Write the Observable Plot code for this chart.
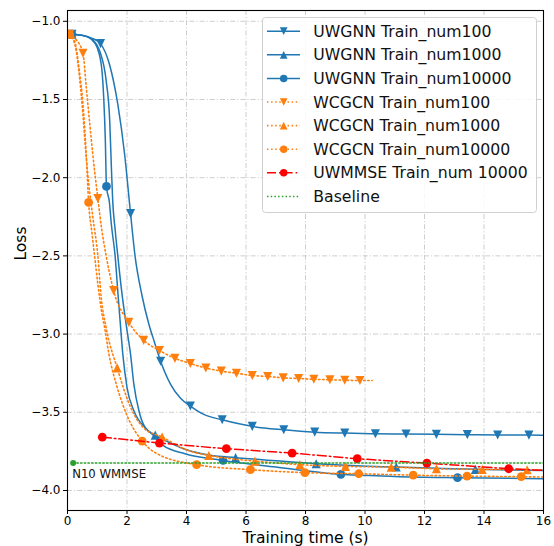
<!DOCTYPE html>
<html><head><meta charset="utf-8">
<script src="https://cdn.jsdelivr.net/npm/d3@7"></script>
<script src="https://cdn.jsdelivr.net/npm/@observablehq/plot@0.6"></script>
<style>
body{margin:0;background:#fff;}
#wrap{position:relative;width:554px;height:546px;font-family:"DejaVu Sans",sans-serif;}
#legend{position:absolute;left:262px;top:17px;}
</style></head><body><div id="wrap"></div>
<script>
const xTicks = [0, 2, 4, 6, 8, 10, 12, 14, 16];
const yTicks = [-1.0, -1.5, -2.0, -2.5, -3.0, -3.5, -4.0];
const xLabel = "Training time (s)";
const yLabel = "Loss";
const legendLabels = ["UWGNN Train_num100", "UWGNN Train_num1000", "UWGNN Train_num10000",
  "WCGCN Train_num100", "WCGCN Train_num1000", "WCGCN Train_num10000",
  "UWMMSE Train_num 10000", "Baseline"];
const annotation = ["N10 WMMSE"];

// [time (s), loss]
const uwgnn100 = [[0.15,-1.083],[0.6,-1.095],[0.9,-1.115],[1.11,-1.143],[1.41,-1.275],[1.69,-1.53],[1.92,-1.85],[2.12,-2.23],[2.27,-2.5],[2.5,-2.75],[2.74,-2.94],[2.92,-3.05],[3.13,-3.174],[3.46,-3.32],[3.8,-3.41],[4.13,-3.46],[4.6,-3.515],[5.2,-3.548],[6.21,-3.59],[7.27,-3.612],[8.31,-3.627],[9.32,-3.633],[10.35,-3.637],[11.38,-3.639],[12.40,-3.641],[13.44,-3.643],[14.46,-3.645],[15.51,-3.646],[16,-3.647]];
const uwgnn100Marks = [0.15,1.11,2.12,3.13,4.13,5.2,6.21,7.27,8.31,9.32,10.35,11.38,12.40,13.44,14.46,15.51];

const uwgnn1000 = [[0.15,-1.083],[0.5,-1.09],[0.8,-1.11],[1.1,-1.2],[1.3,-1.38],[1.42,-1.64],[1.48,-1.96],[1.52,-2.15],[1.6,-2.33],[1.69,-2.5],[1.83,-2.74],[1.98,-2.95],[2.12,-3.13],[2.23,-3.32],[2.4,-3.49],[2.62,-3.6],[2.95,-3.646],[3.5,-3.70],[4.0,-3.74],[4.8,-3.775],[5.65,-3.79],[7.0,-3.81],[8.36,-3.829],[9.7,-3.842],[11.05,-3.85],[12.4,-3.858],[13.71,-3.865],[16,-3.872]];
const uwgnn1000Marks = [0.15,2.95,5.65,8.36,11.05,13.71];

const uwgnn10000 = [[0.15,-1.083],[0.5,-1.09],[0.8,-1.115],[1.0,-1.17],[1.15,-1.3],[1.22,-1.5],[1.27,-1.75],[1.31,-2.056],[1.41,-2.16],[1.47,-2.29],[1.6,-2.5],[1.7,-2.75],[1.77,-2.92],[1.86,-3.13],[2.0,-3.34],[2.23,-3.49],[2.62,-3.6],[2.9,-3.65],[3.2,-3.71],[3.95,-3.765],[5.23,-3.808],[7.0,-3.85],[9.19,-3.897],[11.0,-3.91],[13.11,-3.918],[16,-3.925]];
const uwgnn10000Marks = [0.15,1.31,5.23,9.19,13.11];

const wcgcn100 = [[0.07,-1.083],[0.3,-1.12],[0.52,-1.204],[0.63,-1.42],[0.74,-1.64],[0.85,-1.85],[1.02,-2.133],[1.15,-2.33],[1.3,-2.5],[1.55,-2.722],[2.06,-2.925],[2.56,-3.04],[3.09,-3.105],[3.61,-3.155],[4.13,-3.188],[4.65,-3.217],[5.17,-3.237],[5.68,-3.25],[6.21,-3.265],[6.73,-3.271],[7.25,-3.28],[7.77,-3.284],[8.28,-3.289],[8.82,-3.292],[9.32,-3.295],[9.83,-3.297],[10.24,-3.297]];
const wcgcn100Marks = [0.07,0.52,1.02,1.55,2.06,2.56,3.09,3.61,4.13,4.65,5.17,5.68,6.21,6.73,7.25,7.77,8.28,8.82,9.32,9.83];

const wcgcn1000 = [[0.07,-1.083],[0.25,-1.15],[0.4,-1.35],[0.52,-1.6],[0.62,-1.85],[0.72,-2.05],[0.85,-2.25],[1.02,-2.5],[1.13,-2.76],[1.3,-2.96],[1.67,-3.216],[2.12,-3.467],[2.56,-3.6],[3.18,-3.658],[4.0,-3.74],[4.75,-3.776],[5.5,-3.797],[6.3,-3.812],[7.81,-3.835],[9.34,-3.846],[10.88,-3.851],[12.4,-3.861],[13.94,-3.865],[15.45,-3.867],[16,-3.868]];
const wcgcn1000Marks = [0.07,1.67,3.18,4.75,6.3,7.81,9.34,10.88,12.4,13.94,15.45];

const wcgcn10000 = [[0.07,-1.083],[0.24,-1.126],[0.4,-1.32],[0.52,-1.53],[0.63,-1.85],[0.71,-2.158],[0.82,-2.35],[0.91,-2.5],[1.02,-2.68],[1.15,-2.86],[1.25,-2.96],[1.39,-3.126],[1.67,-3.34],[2.0,-3.52],[2.51,-3.684],[3.01,-3.765],[4.34,-3.835],[6.15,-3.867],[7.98,-3.886],[9.79,-3.893],[11.62,-3.902],[13.43,-3.908],[15.25,-3.912],[16,-3.914]];
const wcgcn10000Marks = [0.07,0.71,2.51,4.34,6.15,7.98,9.79,11.62,13.43,15.25];

const uwmmse = [[1.17,-3.659],[3.09,-3.697],[5.34,-3.733],[7.55,-3.761],[9.74,-3.797],[12.08,-3.825],[14.83,-3.861],[16,-3.872]];
const uwmmseMarks = [1.17,3.09,5.34,7.55,9.74,12.08,14.83];

const baseline = [[0.19,-3.825],[16,-3.825]];
const baselineMarks = [0.19];

const BLUE = "#1f77b4", ORANGE = "#ff7f0e", RED = "#ff0000", GREEN = "#2ca02c";

const triUp = {draw(ctx, size){ const a = Math.sqrt(size/Math.PI)*1.3; ctx.moveTo(0,-a); ctx.lineTo(a,a); ctx.lineTo(-a,a); ctx.closePath(); }};
const triDown = {draw(ctx, size){ const a = Math.sqrt(size/Math.PI)*1.3; ctx.moveTo(0,a); ctx.lineTo(a,-a); ctx.lineTo(-a,-a); ctx.closePath(); }};
const circ = {draw(ctx, size){ const r = Math.sqrt(size/Math.PI); ctx.moveTo(r,0); ctx.arc(0,0,r,0,2*Math.PI); }};

const solid = {dash: null, width: 1.5};
const dotted = {dash: "1.5,2.6", width: 1.6};
const series = [
  {line: uwgnn100, marks: uwgnn100Marks, color: BLUE, sym: triDown, r: 3.5, ...solid, curve: "monotone-x"},
  {line: uwgnn1000, marks: uwgnn1000Marks, color: BLUE, sym: triUp, r: 3.5, ...solid, curve: "monotone-x"},
  {line: uwgnn10000, marks: uwgnn10000Marks, color: BLUE, sym: circ, r: 4.4, ...solid, curve: "monotone-x"},
  {line: wcgcn100, marks: wcgcn100Marks, color: ORANGE, sym: triDown, r: 3.5, ...dotted, curve: "monotone-x"},
  {line: wcgcn1000, marks: wcgcn1000Marks, color: ORANGE, sym: triUp, r: 3.5, ...dotted, curve: "monotone-x"},
  {line: wcgcn10000, marks: wcgcn10000Marks, color: ORANGE, sym: circ, r: 4.4, ...dotted, curve: "monotone-x"},
  {line: uwmmse, marks: uwmmseMarks, color: RED, sym: circ, r: 4.4, dash: "9,3,1.6,3", width: 1.5, curve: "linear"},
  {line: baseline, marks: baselineMarks, color: GREEN, sym: circ, r: 3, dash: "1.5,2.2", width: 1.5, curve: "linear"}
];

const fmt = d => (d < 0 ? "\u2212" : "") + Math.abs(d).toFixed(1);

const marks = [
  Plot.gridX(xTicks, {stroke: "#c8c8c8", strokeOpacity: 1, strokeWidth: 0.9, strokeDasharray: "5,2,1.2,2"}),
  Plot.gridY(yTicks, {stroke: "#c8c8c8", strokeOpacity: 1, strokeWidth: 0.9, strokeDasharray: "5,2,1.2,2"}),
];
for (const s of series) {
  marks.push(Plot.line(s.line, {x: d => d[0], y: d => d[1], stroke: s.color, strokeWidth: s.width,
    strokeDasharray: s.dash, curve: s.curve, clip: true}));
  const pts = s.line.filter(p => s.marks.includes(p[0]));
  marks.push(Plot.dot(pts, {x: d => d[0], y: d => d[1], symbol: s.sym, r: s.r, fill: s.color, stroke: "none", clip: true}));
}
marks.push(Plot.text(baseline.slice(0,1), {x: d => d[0], y: d => d[1], text: () => annotation[0],
  textAnchor: "start", dx: -1, dy: 11.5, fontSize: 11.7, fill: "#111"}));
marks.push(Plot.frame({stroke: "black", strokeWidth: 1.1}));
marks.push(Plot.axisX(xTicks, {tickSize: 4, tickPadding: 2, tickFormat: d => String(d), label: null, fontSize: 12}));
marks.push(Plot.axisY(yTicks, {tickSize: 4, tickPadding: 3, tickFormat: fmt, label: null, fontSize: 12}));
marks.push(Plot.text([xLabel], {frameAnchor: "bottom", lineAnchor: "middle", dy: 28, fontSize: 15.5, text: d => d, fill: "black"}));
marks.push(Plot.text([yLabel], {frameAnchor: "left", lineAnchor: "middle", dx: -46, rotate: -90, fontSize: 15.5, text: d => d, fill: "black"}));

const chart = Plot.plot({
  width: 554, height: 546,
  marginLeft: 67, marginRight: 11, marginTop: 10, marginBottom: 36,
  x: {domain: [0, 16]},
  y: {domain: [-4.128, -0.931]},
  style: {fontFamily: "DejaVu Sans, sans-serif", fontSize: "12px", color: "black", background: "white"},
  marks
});
const wrap = document.getElementById("wrap");
wrap.appendChild(chart);

// legend overlay
const lw = 276, lh = 197;
const leg = d3.create("svg").attr("id", "legend").attr("width", lw).attr("height", lh)
  .style("font-family", "DejaVu Sans, sans-serif");
leg.append("rect").attr("x", 0.5).attr("y", 0.5).attr("width", 274).attr("height", 195).attr("rx", 3)
  .attr("fill", "white").attr("fill-opacity", 0.85).attr("stroke", "#d0d0d0");
series.forEach((s, i) => {
  const y = 14.2 + i * 23.6;
  const g = leg.append("g");
  g.append("line").attr("x1", 5).attr("x2", 38).attr("y1", y).attr("y2", y)
    .attr("stroke", s.color).attr("stroke-width", s.width).attr("stroke-dasharray", s.dash);
  if (i < 7) {
    g.append("path").attr("transform", `translate(21.7,${y})`)
      .attr("d", d3.symbol(s.sym, Math.PI * (s.r * 0.85) ** 2)()).attr("fill", s.color);
  }
  g.append("text").attr("x", 51.3).attr("y", y).attr("dy", "0.36em").attr("font-size", 15.7)
    .attr("fill", "#111").text(legendLabels[i]);
});
wrap.appendChild(leg.node());
</script></body></html>
